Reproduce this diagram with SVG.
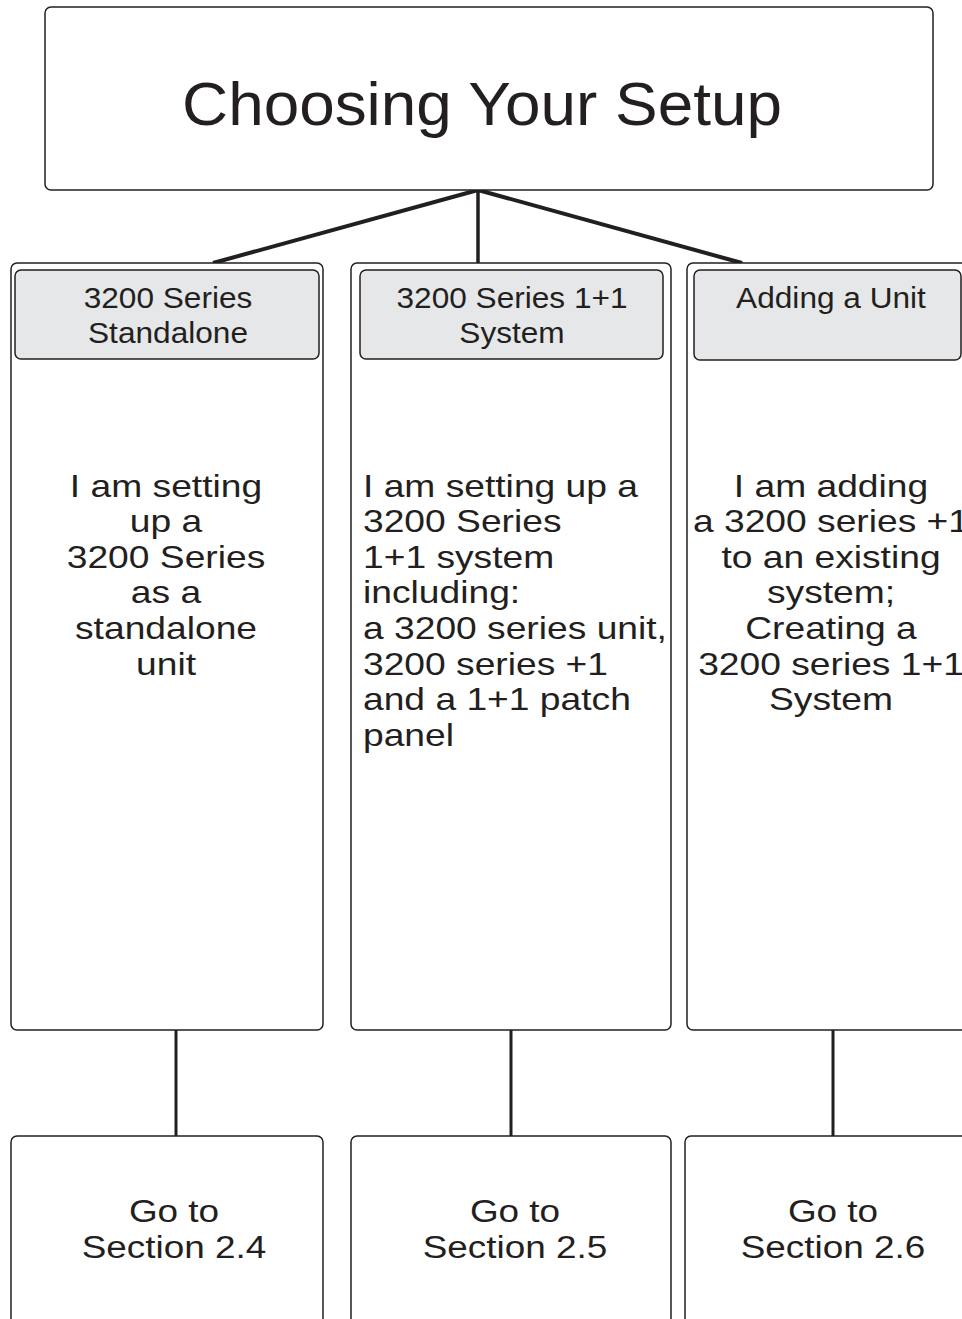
<svg xmlns="http://www.w3.org/2000/svg" width="962" height="1319" viewBox="0 0 962 1319">
<style>
.box{fill:#ffffff;stroke:#231f20;stroke-width:1.5}
.hdr{fill:#e6e7e8;stroke:#231f20;stroke-width:1.5}
.t{font-family:"Liberation Sans",Arial,sans-serif;fill:#231f20}
.title{font-size:62px;text-anchor:middle}
.h{font-size:29px;text-anchor:middle}
.b{font-size:31px}
.c{text-anchor:middle}
.l{text-anchor:start}
.conn{stroke:#231f20;fill:none}
</style>
<rect width="962" height="1319" fill="#ffffff"/>
<g id="connectors">
<line class="conn" x1="478" y1="190" x2="213" y2="263" stroke-width="4"/>
<line class="conn" x1="478" y1="190" x2="478" y2="263" stroke-width="3.5"/>
<line class="conn" x1="478" y1="190" x2="742" y2="263" stroke-width="4"/>
<line class="conn" x1="176" y1="1030" x2="176" y2="1136" stroke-width="3"/>
<line class="conn" x1="511" y1="1030" x2="511" y2="1136" stroke-width="3"/>
<line class="conn" x1="833" y1="1030" x2="833" y2="1136" stroke-width="3"/>
</g>
<g id="title">
<rect class="box" x="45" y="7" width="888" height="183" rx="6"/>
<text class="t title" transform="translate(482,125) scale(1.03,1)">Choosing Your Setup</text>
</g>
<g id="col1">
<rect class="box" x="11" y="263" width="312" height="767" rx="6"/>
<rect class="hdr" x="15" y="270" width="304" height="89" rx="6"/>
<text class="t h" transform="translate(168,308) scale(1.09,1)">3200 Series</text>
<text class="t h" transform="translate(168,343) scale(1.09,1)">Standalone</text>
<text class="t b c" transform="translate(166,497) scale(1.2,1)">I am setting</text>
<text class="t b c" transform="translate(166,532) scale(1.2,1)">up a</text>
<text class="t b c" transform="translate(166,568) scale(1.2,1)">3200 Series</text>
<text class="t b c" transform="translate(166,603) scale(1.2,1)">as a</text>
<text class="t b c" transform="translate(166,639) scale(1.2,1)">standalone</text>
<text class="t b c" transform="translate(166,675) scale(1.2,1)">unit</text>
</g>
<g id="col2">
<rect class="box" x="351" y="263" width="320" height="767" rx="6"/>
<rect class="hdr" x="360" y="270" width="303" height="89" rx="6"/>
<text class="t h" transform="translate(512,308) scale(1.09,1)">3200 Series 1+1</text>
<text class="t h" transform="translate(512,343) scale(1.09,1)">System</text>
<text class="t b l" transform="translate(363,497) scale(1.2,1)">I am setting up a</text>
<text class="t b l" transform="translate(363,532) scale(1.2,1)">3200 Series</text>
<text class="t b l" transform="translate(363,568) scale(1.2,1)">1+1 system</text>
<text class="t b l" transform="translate(363,603) scale(1.2,1)">including:</text>
<text class="t b l" transform="translate(363,639) scale(1.2,1)">a 3200 series unit,</text>
<text class="t b l" transform="translate(363,675) scale(1.2,1)">3200 series +1</text>
<text class="t b l" transform="translate(363,710) scale(1.2,1)">and a 1+1 patch</text>
<text class="t b l" transform="translate(363,746) scale(1.2,1)">panel</text>
</g>
<g id="col3">
<rect class="box" x="687" y="263" width="290" height="767" rx="6"/>
<rect class="hdr" x="694" y="270" width="267" height="90" rx="6"/>
<text class="t h" transform="translate(831,308) scale(1.09,1)">Adding a Unit</text>
<text class="t b c" transform="translate(831,497) scale(1.2,1)">I am adding</text>
<text class="t b c" transform="translate(831,532) scale(1.2,1)">a 3200 series +1</text>
<text class="t b c" transform="translate(831,568) scale(1.2,1)">to an existing</text>
<text class="t b c" transform="translate(831,603) scale(1.2,1)">system;</text>
<text class="t b c" transform="translate(831,639) scale(1.2,1)">Creating a</text>
<text class="t b c" transform="translate(831,675) scale(1.2,1)">3200 series 1+1</text>
<text class="t b c" transform="translate(831,710) scale(1.2,1)">System</text>
</g>
<g id="go1">
<rect class="box" x="11" y="1136" width="312" height="200" rx="6"/>
<text class="t b c" transform="translate(174,1222) scale(1.19,1)">Go to</text>
<text class="t b c" transform="translate(174,1258) scale(1.19,1)">Section 2.4</text>
</g>
<g id="go2">
<rect class="box" x="351" y="1136" width="320" height="200" rx="6"/>
<text class="t b c" transform="translate(515,1222) scale(1.19,1)">Go to</text>
<text class="t b c" transform="translate(515,1258) scale(1.19,1)">Section 2.5</text>
</g>
<g id="go3">
<rect class="box" x="685" y="1136" width="292" height="200" rx="6"/>
<text class="t b c" transform="translate(833,1222) scale(1.19,1)">Go to</text>
<text class="t b c" transform="translate(833,1258) scale(1.19,1)">Section 2.6</text>
</g>
</svg>
